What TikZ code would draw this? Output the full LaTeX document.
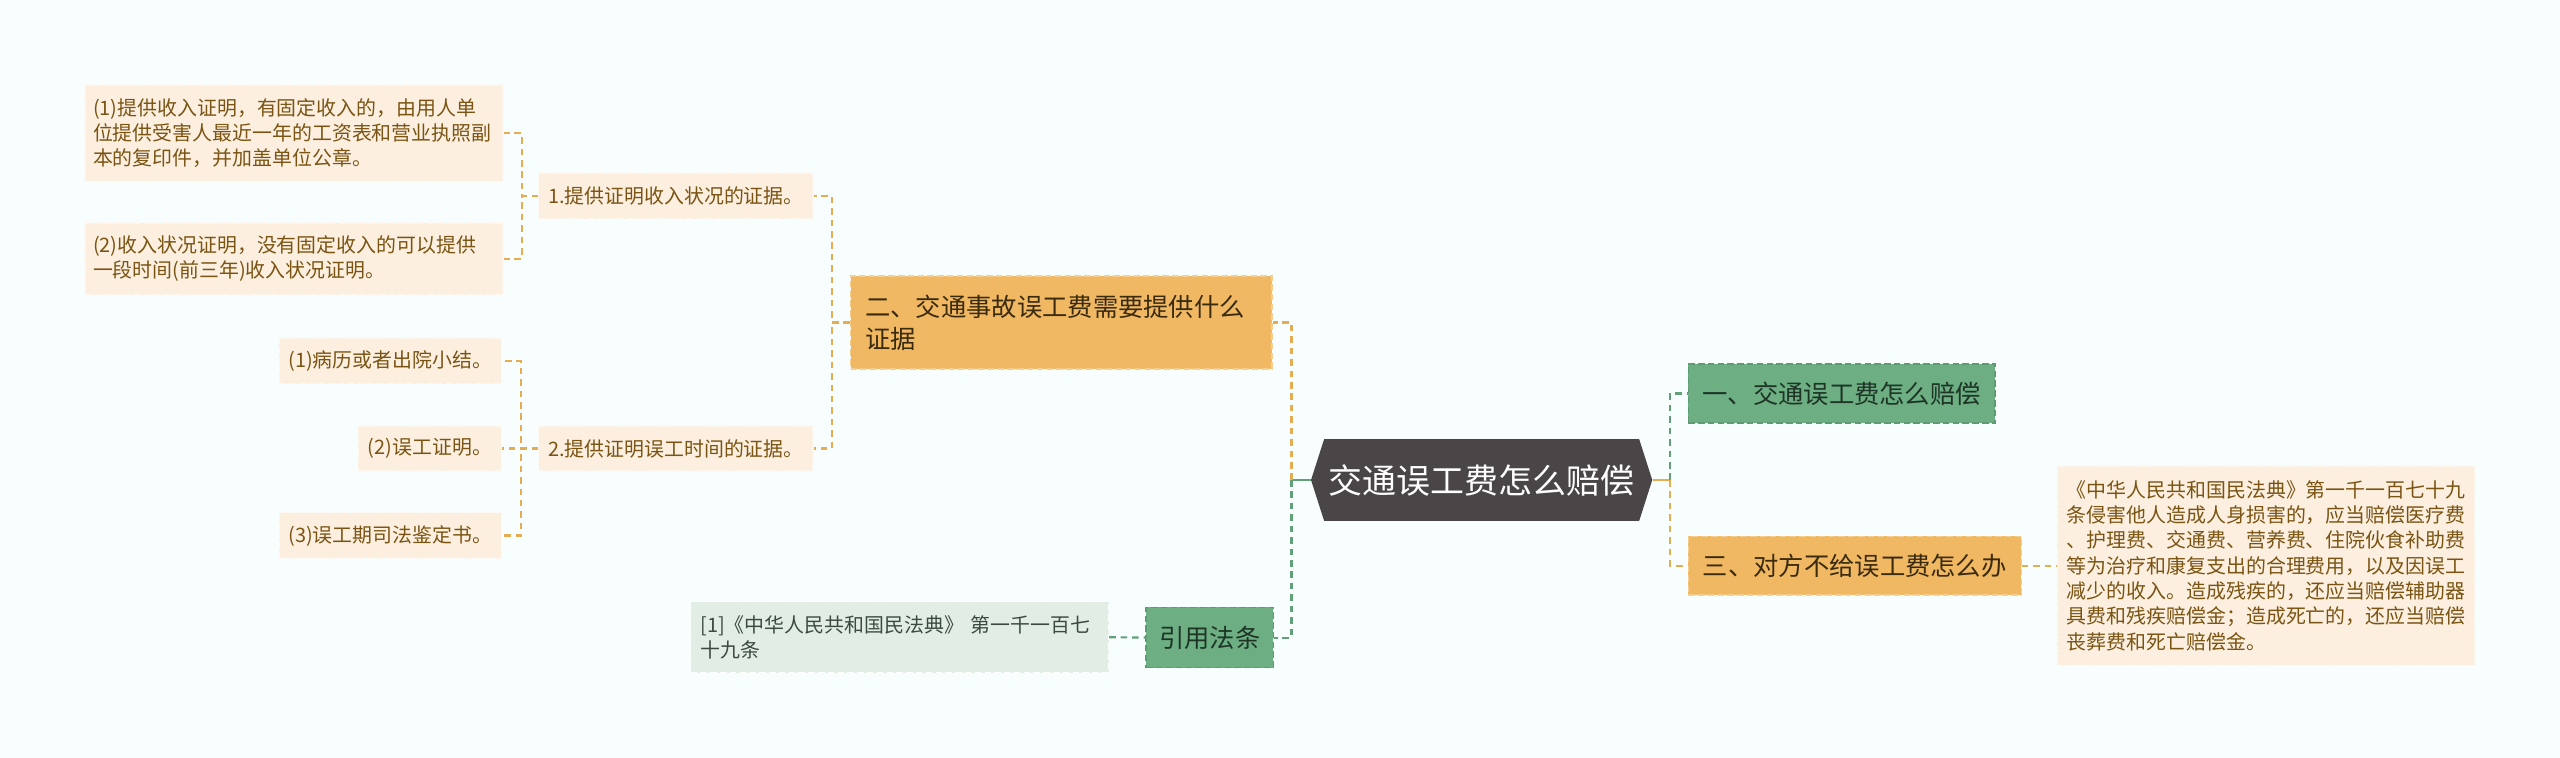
\documentclass[tikz,border=0pt]{standalone}
\usepackage{fontspec}
\usepackage{tikz}
\usepackage{xcolor}
\newfontfamily\cjk{Noto Sans CJK SC}
\definecolor{bgc}{HTML}{F8FDFE}
\definecolor{leaffill}{HTML}{FCEFE0}
\definecolor{leafedge}{HTML}{FFF8F0}
\definecolor{leaftext}{HTML}{7A5412}
\definecolor{topfill}{HTML}{F0B862}
\definecolor{topedge}{HTML}{F6CF8E}
\definecolor{toptext}{HTML}{3A2A0E}
\definecolor{gfill}{HTML}{6DAE83}
\definecolor{gedge}{HTML}{5E9B72}
\definecolor{gtext}{HTML}{1E3526}
\definecolor{citefill}{HTML}{E2EEE5}
\definecolor{citetext}{HTML}{3B4A40}
\definecolor{rootfill}{HTML}{4A4547}
\definecolor{ocol}{HTML}{E6AC52}
\definecolor{gcol}{HTML}{62A078}

\begin{document}
\begin{tikzpicture}[x=1pt, y=-1pt,
    every node/.style={font=\cjk\fontsize{12.2}{15.5}\selectfont, inner sep=0pt},
    leaf/.style={rectangle, draw=leafedge, fill=leaffill, text=leaftext, dash pattern=on 4pt off 2pt, line width=0.8pt},
    topic/.style={rectangle, draw=topedge, fill=topfill, text=toptext, dash pattern=on 4pt off 2pt, line width=0.8pt, font=\cjk\fontsize{15.5}{19.4}\selectfont},
    gtopic/.style={rectangle, draw=gedge, fill=gfill, text=gtext, dash pattern=on 4pt off 2pt, line width=0.8pt, font=\cjk\fontsize{15.5}{19.4}\selectfont},
    cite/.style={rectangle, draw=white, fill=citefill, text=citetext, dash pattern=on 4pt off 2pt, line width=0.8pt},
    oline/.style={draw=ocol, line width=1.3pt, dash pattern=on 4pt off 3pt},
    gline/.style={draw=gcol, line width=1.3pt, dash pattern=on 4pt off 3pt}]
    \fill[bgc] (0,0) rectangle (1568,464);
    \useasboundingbox (0,0) rectangle (1568,464);

    \fill[rootfill] (803,294) -- (811,269) -- (1004,269) -- (1012,294) -- (1004,319) -- (811,319) -- cycle;
    \node[text=white, font=\cjk\fontsize{20.8}{24}\selectfont, minimum width=209pt, minimum height=50pt] (R) at (907.5,294) {交通误工费怎么赔偿};

    \node[gtopic, minimum width=188pt, minimum height=36pt] (Q1) at (1128,241) {一、交通误工费怎么赔偿};
    \node[topic, inner xsep=9pt, text width=240pt, align=left, minimum height=57pt] (Q2) at (650,197.5) {二、交通事故误工费需要提供什么\\证据};
    \node[topic, minimum width=204pt, minimum height=36pt] (Q3) at (1136,346.4) {三、对方不给误工费怎么办};
    \node[leaf, inner xsep=6pt, text width=244pt, align=left, minimum height=122pt] (Q31) at (1388,346.4) {《中华人民共和国民法典》第一千一百七十九\\条侵害他人造成人身损害的，应当赔偿医疗费\\、护理费、交通费、营养费、住院伙食补助费\\等为治疗和康复支出的合理费用，以及因误工\\减少的收入。造成残疾的，还应当赔偿辅助器\\具费和残疾赔偿金；造成死亡的，还应当赔偿\\丧葬费和死亡赔偿金。};

    \node[gtopic, minimum width=78pt, minimum height=37pt] (L) at (741,390.5) {引用法条};
    \node[cite, inner xsep=6pt, text width=244pt, align=left, minimum height=43.5pt] (L1) at (551,390.3) {[1]《中华人民共和国民法典》 第一千一百七\\十九条};

    \node[leaf, minimum width=168pt, minimum height=28pt] (E1) at (414,120) {1.提供证明收入状况的证据。};
    \node[leaf, minimum width=168pt, minimum height=27.5pt] (E2) at (414,274.7) {2.提供证明误工时间的证据。};
    \node[leaf, inner xsep=5pt, text width=246pt, align=left, minimum height=59pt] (E11) at (180,81.5) {(1)提供收入证明，有固定收入的，由用人单\\位提供受害人最近一年的工资表和营业执照副\\本的复印件，并加盖单位公章。};
    \node[leaf, inner xsep=5pt, text width=246pt, align=left, minimum height=44pt] (E12) at (180,158.5) {(2)收入状况证明，没有固定收入的可以提供\\一段时间(前三年)收入状况证明。};
    \node[leaf, minimum width=136pt, minimum height=28pt] (E21) at (239,221) {(1)病历或者出院小结。};
    \node[leaf, minimum width=87.5pt, minimum height=27.5pt] (E22) at (263.3,274.7) {(2)误工证明。};
    \node[leaf, minimum width=136pt, minimum height=28pt] (E23) at (239,328) {(3)误工期司法鉴定书。};

    \coordinate (LJ) at (791,294);
    \coordinate (RJ) at (1023,294);
    \draw[gline, solid] (R.west) -- (LJ);
    \draw[oline, solid] (R.east) -- (RJ);
    \draw[oline] (LJ) |- (Q2.east);
    \draw[gline] (LJ) |- (L.east);
    \draw[gline] (RJ) |- (Q1.west);
    \draw[oline] (RJ) |- (Q3.west);
    \draw[oline] (Q3.east) -- (Q31.west);
    \draw[gline] (L1.east) -- (L.west);
    \draw[oline] (Q2.west) -- ++(-11,0) |- (E1.east);
    \draw[oline] (Q2.west) -- ++(-11,0) |- (E2.east);
    \draw[oline] (E1.west) -- ++(-10,0) |- (E11.east);
    \draw[oline] (E1.west) -- ++(-10,0) |- (E12.east);
    \foreach \n in {E21,E22,E23}
        \draw[oline] (E2.west) -- ++(-10.5,0) |- (\n.east);
\end{tikzpicture}
\end{document}
